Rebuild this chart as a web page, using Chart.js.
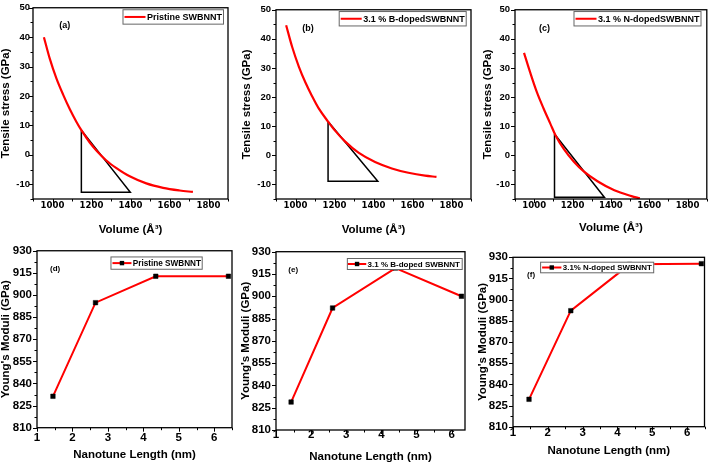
<!DOCTYPE html>
<html><head><meta charset="utf-8">
<script src="https://cdn.jsdelivr.net/npm/chart.js@4.4.1/dist/chart.umd.min.js"></script>
<style>
html,body{margin:0;padding:0;background:#fff;width:709px;height:467px;overflow:hidden;position:relative}
canvas{position:absolute}
</style></head><body>
<canvas id="ca" width="236" height="240" style="left:0;top:0"></canvas>
<canvas id="cb" width="236" height="240" style="left:238px;top:0"></canvas>
<canvas id="cc" width="234" height="240" style="left:475px;top:0"></canvas>
<canvas id="cd" width="237" height="227" style="left:0;top:240px"></canvas>
<canvas id="ce" width="236" height="227" style="left:238px;top:240px"></canvas>
<canvas id="cf" width="234" height="227" style="left:475px;top:240px"></canvas>
<script>
// ---------- data ----------
const volumeA = [956, 986, 1020, 1055, 1089, 1123, 1148, 1191, 1225, 1276, 1328, 1396, 1481, 1567, 1652, 1720];
const stressA = [40.0, 32.7, 26.0, 20.4, 15.5, 11.2, 8.4, 4.2, 1.5, -1.9, -4.5, -7.3, -9.7, -11.2, -12.1, -12.6];
const volumeB = [952, 983, 1017, 1051, 1085, 1119, 1167, 1204, 1255, 1323, 1408, 1494, 1579, 1664, 1723];
const stressB = [44.7, 37.2, 30.5, 25.0, 20.3, 16.1, 11.6, 8.4, 4.7, 0.9, -2.3, -4.5, -6.0, -7.0, -7.4];
const volumeC = [947, 979, 1014, 1049, 1084, 1111, 1155, 1207, 1260, 1330, 1418, 1507, 1551];
const stressC = [35.2, 28.5, 21.7, 16.1, 10.9, 6.9, 2.1, -2.2, -5.6, -8.9, -12.0, -14.0, -14.8];

const triVolumeA = [1148, 1148, 1399, 1148];
const triStressA = [8.4, -12.7, -12.7, 8.4];
const triVolumeB = [1167, 1167, 1422, 1167];
const triStressB = [11.6, -8.9, -8.9, 11.6];
const triVolumeC = [1106, 1106, 1366, 1106];
const triStressC = [7.3, -14.4, -14.4, 7.3];

const lengthD = [1.45, 2.65, 4.35, 6.4];
const modulusD = [831.3, 894.8, 912.7, 912.7];
const lengthE = [1.43, 2.61, 4.4, 6.28];
const modulusE = [828.8, 892.1, 919.0, 900.0];
const lengthF = [1.46, 2.66, 4.35, 6.41];
const modulusF = [829.4, 892.2, 925.0, 925.5];

const volumeTicks = [1000, 1200, 1400, 1600, 1800];
const stressTicks = [-10, 0, 10, 20, 30, 40, 50];
const lengthTicks = [1, 2, 3, 4, 5, 6];
const modulusTicks = [810, 825, 840, 855, 870, 885, 900, 915, 930];

const seriesTop = ['Pristine SWBNNT', '3.1 % B-dopedSWBNNT', '3.1 % N-dopedSWBNNT'];
const seriesBottom = ['Pristine SWBNNT', '3.1 % B-doped SWBNNT', '3.1% N-doped SWBNNT'];
const panelTags = ['(a)', '(b)', '(c)', '(d)', '(e)', '(f)'];

// ---------- helpers ----------
const SANS = "'Liberation Sans', Arial, Helvetica, sans-serif";
const NARROW = "'Liberation Sans Narrow', 'Arial Narrow', 'DejaVu Sans Condensed', 'Liberation Sans', sans-serif";
const RED = '#ff0000';

function tickSet(major, min, max) {
  const half = (major[1] - major[0]) / 2;
  let v = major[0];
  while (v - half >= min - 1e-9) v -= half;
  const out = [];
  for (; v <= max + 1e-9; v += half) out.push({ value: Math.round(v * 1000) / 1000 });
  return out;
}
function isMajor(v, major) { return major.some(m => Math.abs(m - v) < 1e-6); }
function pts(xs, ys) { return xs.map((x, i) => ({ x: x, y: ys[i] })); }

const decor = {
  id: 'decor',
  afterDatasetsDraw(chart, args, o) {
    const ctx = chart.ctx, ca = chart.chartArea;
    const xs = chart.scales.x, ys = chart.scales.y;
    ctx.save();
    ctx.strokeStyle = '#000';
    ctx.lineWidth = 1;
    xs.ticks.forEach(t => {
      const p = Math.round(xs.getPixelForValue(t.value)) + 0.5;
      const len = isMajor(t.value, o.xMajor) ? o.majorLen : o.minorLen;
      ctx.beginPath(); ctx.moveTo(p, ca.bottom); ctx.lineTo(p, ca.bottom + len); ctx.stroke();
    });
    ys.ticks.forEach(t => {
      const p = Math.round(ys.getPixelForValue(t.value)) + 0.5;
      const len = isMajor(t.value, o.yMajor) ? o.majorLen : o.minorLen;
      ctx.beginPath(); ctx.moveTo(ca.left - len, p); ctx.lineTo(ca.left, p); ctx.stroke();
    });
    ctx.lineWidth = 1.3;
    ctx.strokeRect(ca.left, ca.top, ca.right - ca.left, ca.bottom - ca.top);
    ctx.fillStyle = '#000';
    ctx.font = 'bold ' + o.tagSize + 'px ' + SANS;
    ctx.textAlign = 'center';
    ctx.textBaseline = 'middle';
    ctx.fillText(o.tag, xs.getPixelForValue(o.tagX), ys.getPixelForValue(o.tagY));
    const lg = o.legend;
    const ds = chart.data.datasets[0];
    ctx.font = 'bold ' + lg.size + 'px ' + SANS;
    const tw = ctx.measureText(ds.label).width;
    const w = lg.padL + lg.lineLen + lg.gap + tw + lg.padR;
    const right = ca.right - lg.right;
    const left = right - w;
    const top = ca.top + lg.top;
    ctx.fillStyle = '#fff';
    ctx.fillRect(left, top, w, lg.h);
    ctx.strokeStyle = '#666';
    ctx.lineWidth = 1;
    ctx.strokeRect(left + 0.5, top + 0.5, w - 1, lg.h - 1);
    const cy = top + lg.h / 2;
    ctx.strokeStyle = RED;
    ctx.lineWidth = 2;
    ctx.beginPath(); ctx.moveTo(left + lg.padL, cy); ctx.lineTo(left + lg.padL + lg.lineLen, cy); ctx.stroke();
    if (lg.marker) {
      ctx.fillStyle = '#000';
      const mx = left + lg.padL + lg.lineLen / 2;
      ctx.fillRect(mx - 2.2, cy - 2.2, 4.4, 4.4);
    }
    ctx.fillStyle = '#000';
    ctx.textAlign = 'left';
    ctx.textBaseline = 'middle';
    ctx.fillText(ds.label, left + lg.padL + lg.lineLen + lg.gap, cy + 0.5);
    ctx.restore();
  }
};

function makeChart(c) {
  const xMaj = c.xMajor, yMaj = c.yMajor;
  return new Chart(document.getElementById(c.id), {
    type: 'scatter',
    data: { datasets: c.datasets },
    plugins: [decor],
    options: {
      responsive: false,
      animation: false,
      events: [],
      layout: { padding: { left: 0, right: c.padR, top: c.padT, bottom: 0 } },
      plugins: {
        legend: { display: false },
        tooltip: { enabled: false },
        decor: {
          xMajor: xMaj, yMajor: yMaj, majorLen: 4, minorLen: 2.5,
          tag: c.tag, tagX: c.tagX, tagY: c.tagY, tagSize: c.tagSize,
          legend: c.legend
        }
      },
      scales: {
        x: {
          type: 'linear', min: c.xMin, max: c.xMax,
          afterBuildTicks: s => { s.ticks = tickSet(xMaj, c.xMin, c.xMax); },
          afterFit: s => { s.height = c.xAxisH; },
          grid: { display: false, drawTicks: false },
          border: { display: false },
          ticks: {
            autoSkip: false, maxRotation: 0, minRotation: 0, padding: c.xTickPad, color: '#000',
            font: { family: c.xTickFamily, size: c.xTickSize, weight: 'bold', lineHeight: 1 },
            callback: v => isMajor(v, xMaj) ? String(v) : ''
          },
          title: {
            display: true, text: c.xTitle, color: '#000',
            font: { family: SANS, size: c.titleSize, weight: 'bold', lineHeight: 1 },
            padding: { top: 0, bottom: c.xTitlePad }
          }
        },
        y: {
          type: 'linear', min: c.yMin, max: c.yMax,
          afterBuildTicks: s => { s.ticks = tickSet(yMaj, c.yMin, c.yMax); },
          afterFit: s => { s.width = c.yAxisW; },
          grid: { display: false, drawTicks: false },
          border: { display: false },
          ticks: {
            autoSkip: false, padding: c.yTickPad, color: '#000',
            font: { family: SANS, size: c.yTickSize, weight: 'bold', lineHeight: 1 },
            callback: v => isMajor(v, yMaj) ? String(v) : ''
          },
          title: {
            display: true, text: c.yTitle, color: '#000',
            font: { family: SANS, size: c.titleSize, weight: 'bold', lineHeight: 1 },
            padding: { top: c.yTitlePad, bottom: 0 }
          }
        }
      }
    }
  });
}

function curveSets(label, xs, ys, tx, ty) {
  return [
    { label: label, data: pts(xs, ys), showLine: true, borderColor: RED, backgroundColor: RED,
      borderWidth: 2.2, pointRadius: 0, cubicInterpolationMode: 'monotone' },
    { label: 'tangent', data: pts(tx, ty), showLine: true, borderColor: '#000', backgroundColor: '#000',
      borderWidth: 1.5, pointRadius: 0, tension: 0 }
  ];
}
function moduliSets(label, xs, ys) {
  return [
    { label: label, data: pts(xs, ys), showLine: true, borderColor: RED, backgroundColor: '#000',
      borderWidth: 2, tension: 0, pointStyle: 'rect', pointRadius: 3.2,
      pointBackgroundColor: '#000', pointBorderColor: '#000', pointBorderWidth: 0.5 }
  ];
}

const topCommon = {
  xMin: 900, xMax: 1900, xMajor: volumeTicks, yMin: -15, yMax: 50, yMajor: stressTicks,
  xTitle: 'Volume (Å³)', yTitle: 'Tensile stress (GPa)', titleSize: 11.5,
  xTickFamily: NARROW, xTickSize: 9.5, yTickSize: 9.5, xTickPad: 2.2,
  padT: 6, xAxisH: 41, tagSize: 9
};
const botCommon = {
  xMin: 1, xMajor: lengthTicks, yMin: 810, yMax: 930, yMajor: modulusTicks,
  xTitle: 'Nanotune Length (nm)', yTitle: "Young's Moduli (GPa)", titleSize: 11.5,
  xTickFamily: SANS, xTickSize: 11.5, yTickSize: 11.5, yTickPad: 5, tagSize: 8
};

makeChart(Object.assign({}, topCommon, {
  id: 'ca', datasets: curveSets(seriesTop[0], volumeA, stressA, triVolumeA, triStressA),
  padR: 8, yAxisW: 33, yTickPad: 3, yTitlePad: 0.3, xTitlePad: 4.25,
  tag: panelTags[0], tagX: 1063, tagY: 44.1,
  legend: { size: 9, h: 15.4, padL: 2, lineLen: 21, gap: 1.5, padR: 2, right: 4, top: 1.5, marker: false }
}));
makeChart(Object.assign({}, topCommon, {
  id: 'cb', datasets: curveSets(seriesTop[1], volumeB, stressB, triVolumeB, triStressB),
  padR: 3, yAxisW: 38, yTickPad: 5, yTitlePad: 3.25, xTitlePad: 4.25,
  tag: panelTags[1], tagX: 1064, tagY: 43.6,
  legend: { size: 9, h: 15.4, padL: 2, lineLen: 21, gap: 1.5, padR: 2, right: 4.3, top: 1.3, marker: false }
}));
makeChart(Object.assign({}, topCommon, {
  id: 'cc', datasets: curveSets(seriesTop[2], volumeC, stressC, triVolumeC, triStressC),
  padR: 2, yAxisW: 40, yTickPad: 5, yTitlePad: 7.25, xTitlePad: 6.75,
  tag: panelTags[2], tagX: 1054, tagY: 43.6,
  legend: { size: 9, h: 15.4, padL: 2, lineLen: 21, gap: 1.5, padR: 2, right: 5.3, top: 1.3, marker: false }
}));
makeChart(Object.assign({}, botCommon, {
  id: 'cd', datasets: moduliSets(seriesBottom[0], lengthD, modulusD),
  xMax: 6.5, padR: 5, padT: 9.3, yAxisW: 37, xAxisH: 39.3, xTickPad: 4.85, yTitlePad: 0.5, xTitlePad: 6.25,
  tag: panelTags[3], tagX: 1.51, tagY: 918.1,
  legend: { size: 8.2, h: 13.3, padL: 2, lineLen: 19, gap: 1.3, padR: 1.7, right: 29.3, top: 5.7, marker: true }
}));
makeChart(Object.assign({}, botCommon, {
  id: 'ce', datasets: moduliSets(seriesBottom[1], lengthE, modulusE),
  xMax: 6.38, padR: 9, padT: 11.7, yAxisW: 38, xAxisH: 37, xTickPad: -0.5, yTitlePad: 2.25, xTitlePad: 4.55,
  tag: panelTags[4], tagX: 1.49, tagY: 918,
  legend: { size: 8, h: 12, padL: 1, lineLen: 18.4, gap: 1.3, padR: 2.7, right: 2.3, top: 6.3, marker: true }
}));
makeChart(Object.assign({}, botCommon, {
  id: 'cf', datasets: moduliSets(seriesBottom[2], lengthF, modulusF),
  xMax: 6.5, padR: 2, padT: 17.3, yAxisW: 38, xAxisH: 40.3, xTickPad: 0.85, yTitlePad: 2.25, xTitlePad: 10.25,
  tag: panelTags[5], tagX: 1.52, tagY: 917.5,
  legend: { size: 7.9, h: 11.6, padL: 2, lineLen: 19.3, gap: 1.4, padR: 2.4, right: 50.3, top: 4.4, marker: true }
}));
</script>
</body></html>
